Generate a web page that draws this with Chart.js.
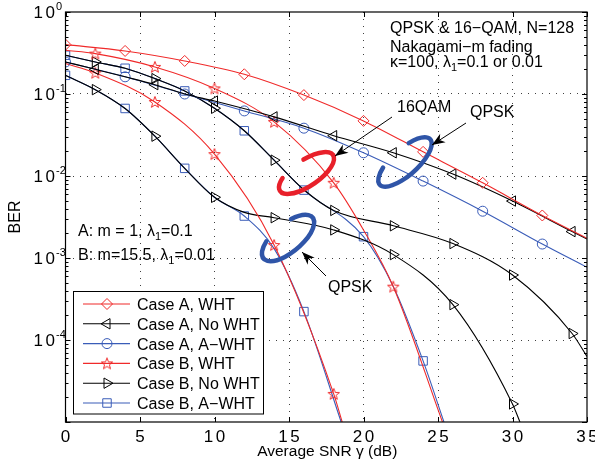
<!DOCTYPE html>
<html lang="en">
<head>
<meta charset="UTF-8">
<title>BER vs average SNR</title>
<script src="https://cdn.jsdelivr.net/npm/chart.js"></script>
<style>
	body {padding: 0; margin: 0; background: #fff;}
	#chartContainer { width: 595px; height: 470px; }
</style>
</head>
<body>

<div id="chartContainer">
    <canvas id="berChart"></canvas>
</div>

<script>
// values: SNR in dB, BER, and 1 where a marker is drawn
// Case A (QPSK)
var aWhtSnr  = [0, 4, 8, 12, 16, 20, 24, 28, 32, 35];
var aWhtBer  = [0.40, 0.335, 0.253, 0.174, 0.097, 0.047, 0.0197, 0.00826, 0.0033, 0.00174];
var aWhtMark = [1, 1, 1, 1, 1, 1, 1, 1, 1, 0];

var aNoSnr  = [0, 2, 4, 6, 8, 10, 14, 18, 22, 26, 30, 34, 35];
var aNoBer  = [0.246, 0.20, 0.162, 0.13, 0.10, 0.082, 0.0526, 0.031, 0.0192, 0.01055, 0.00495, 0.0021, 0.0017];
var aNoMark = [0, 1, 0, 1, 0, 1, 1, 1, 1, 1, 1, 1, 0];

var aAdSnr  = [0, 4, 8, 12, 16, 20, 24, 28, 32, 35];
var aAdBer  = [0.246, 0.162, 0.10, 0.0622, 0.0383, 0.0192, 0.00867, 0.00372, 0.00148, 0.00077];
var aAdMark = [1, 1, 1, 1, 1, 1, 1, 1, 1, 0];

// Case B, QPSK
var bqWhtSnr  = [0, 2, 6, 10, 14, 18, 18.57];
var bqWhtBer  = [0.235, 0.181, 0.080, 0.0185, 0.00144, 0.000022, 0.00001];
var bqWhtMark = [0, 1, 1, 1, 1, 1, 0];

var bqNoSnr  = [0, 2, 4, 6, 8, 10, 12, 14, 18, 22, 26, 30, 30.5];
var bqNoBer  = [0.169, 0.113, 0.0666, 0.0306, 0.0124, 0.0055, 0.0036, 0.0031, 0.0022, 0.0011, 0.00027, 0.0000166, 0.00001];
var bqNoMark = [0, 1, 0, 1, 0, 1, 0, 1, 1, 1, 1, 1, 0];

var bqAdSnr  = [0, 2, 4, 6, 8, 10, 12, 14, 16, 18.5];
var bqAdBer  = [0.169, 0.113, 0.0666, 0.0306, 0.0124, 0.0055, 0.00325, 0.0013, 0.000222, 0.00001];
var bqAdMark = [1, 0, 1, 0, 1, 0, 1, 0, 1, 0];

// Case B, 16QAM
var b16WhtSnr  = [0, 2, 6, 10, 14, 18, 20, 22, 25.3];
var b16WhtBer  = [0.342, 0.311, 0.214, 0.117, 0.0457, 0.00826, 0.0022, 0.000447, 0.00001];
var b16WhtMark = [0, 1, 1, 1, 1, 1, 0, 1, 0];

var b16NoSnr  = [0, 2, 4, 6, 8, 10, 12, 14, 16, 18, 22, 26, 30, 34, 35];
var b16NoBer  = [0.297, 0.246, 0.206, 0.154, 0.109, 0.067, 0.0356, 0.0156, 0.0068, 0.0038, 0.00247, 0.0015, 0.00062, 0.00012, 0.000063];
var b16NoMark = [0, 1, 0, 1, 0, 1, 0, 1, 0, 1, 1, 1, 1, 1, 0];

var b16AdSnr  = [0, 2, 4, 6, 8, 10, 12, 14, 16, 20, 22, 24, 25.4];
var b16AdBer  = [0.297, 0.246, 0.206, 0.154, 0.109, 0.067, 0.0356, 0.0156, 0.00673, 0.00182, 0.00045, 0.0000556, 0.00001];
var b16AdMark = [1, 0, 1, 0, 1, 0, 1, 0, 1, 1, 0, 1, 0];

var legendLabels = ['Case A, WHT', 'Case A, No WHT', 'Case A, A\u2212WHT',
                    'Case B, WHT', 'Case B, No WHT', 'Case B, A\u2212WHT'];
var xTicks = [0, 5, 10, 15, 20, 25, 30, 35];
var yDecades = [-5, -4, -3, -2, -1, 0];

var RED = '#f02a2a';
var BLUE = '#3a5cb8';
var BLACK = '#000000';
var FONT = '"Liberation Sans", Arial, Helvetica, sans-serif';
var GRID = 'rgba(0,0,0,0.75)';

// outline pentagram, used as a point style
function makeStar(color) {
    var c = document.createElement('canvas');
    c.width = 14; c.height = 14;
    var g = c.getContext('2d');
    g.strokeStyle = color;
    g.lineWidth = 1;
    g.beginPath();
    for (var i = 0; i < 10; i++) {
        var r = (i % 2 === 0) ? 6 : 2.5;
        var a = -Math.PI / 2 + i * Math.PI / 5;
        var px = 7 + r * Math.cos(a), py = 7.5 + r * Math.sin(a);
        if (i === 0) g.moveTo(px, py); else g.lineTo(px, py);
    }
    g.closePath();
    g.stroke();
    return c;
}
var redStar = makeStar(RED);

function makeSet(label, snr, ber, mark, color, style, rot, radius) {
    var pts = snr.map(function(s, i) { return {x: s, y: ber[i]}; });
    return {
        label: label,
        data: pts,
        borderColor: color,
        borderWidth: 1.1,
        backgroundColor: 'rgba(0,0,0,0)',
        pointStyle: style,
        pointRotation: rot,
        pointRadius: mark.map(function(m) { return m ? radius : 0; }),
        pointBorderColor: color,
        pointBackgroundColor: 'rgba(0,0,0,0)',
        pointBorderWidth: 1,
        cubicInterpolationMode: 'monotone',
        fill: false
    };
}

var datasets = [
    makeSet(legendLabels[0], aWhtSnr, aWhtBer, aWhtMark, RED, 'rectRot', 0, 5.5),
    makeSet(legendLabels[1], aNoSnr, aNoBer, aNoMark, BLACK, 'triangle', -90, 6),
    makeSet(legendLabels[2], aAdSnr, aAdBer, aAdMark, BLUE, 'circle', 0, 5),
    makeSet(legendLabels[3], bqWhtSnr, bqWhtBer, bqWhtMark, RED, redStar, 0, 6),
    makeSet(legendLabels[4], bqNoSnr, bqNoBer, bqNoMark, BLACK, 'triangle', 90, 6),
    makeSet(legendLabels[5], bqAdSnr, bqAdBer, bqAdMark, BLUE, 'rect', 0, 6),
    makeSet(legendLabels[3], b16WhtSnr, b16WhtBer, b16WhtMark, RED, redStar, 0, 6),
    makeSet(legendLabels[4], b16NoSnr, b16NoBer, b16NoMark, BLACK, 'triangle', 90, 6),
    makeSet(legendLabels[5], b16AdSnr, b16AdBer, b16AdMark, BLUE, 'rect', 0, 6)
];

function isDecade(v) {
    var l = Math.log10(v);
    return Math.abs(l - Math.round(l)) < 1e-6;
}

// text with a sub or superscript piece: parts = [[text, size, dy], ...]
function drawRich(g, parts, x, y) {
    var cx = x;
    g.textAlign = 'left';
    parts.forEach(function(p) {
        g.font = p[1] + 'px ' + FONT;
        g.fillText(p[0], cx, y + p[2]);
        cx += g.measureText(p[0]).width;
    });
}

// wide tick label text, like the figure's
function tickText(g, s, x, y, align) {
    var sp = 2.5;
    g.font = '17px ' + FONT;
    g.textAlign = 'left';
    var w = 0;
    var ws = s.split('').map(function(ch) { var m = g.measureText(ch).width; w += m; return m; });
    w += sp * (s.length - 1);
    var cx = align === 'right' ? x - w : x - w / 2;
    s.split('').forEach(function(ch, i) {
        g.fillText(ch, cx, y);
        cx += ws[i] + sp;
    });
}

function arrow(g, x1, y1, x2, y2) {
    g.strokeStyle = '#000';
    g.fillStyle = '#000';
    g.lineWidth = 1;
    g.beginPath(); g.moveTo(x1, y1); g.lineTo(x2, y2); g.stroke();
    var a = Math.atan2(y2 - y1, x2 - x1);
    var L = 13, W = 5;
    g.save();
    g.translate(x2, y2);
    g.rotate(a);
    g.beginPath();
    g.moveTo(0, 0);
    g.lineTo(-L, -W);
    g.lineTo(-L * 0.7, 0);
    g.lineTo(-L, W);
    g.closePath();
    g.fill();
    g.restore();
}

function ring(g, cx, cy, a, b, rotDeg, start, end, color) {
    g.strokeStyle = color;
    g.lineWidth = 4.5;
    g.lineCap = 'round';
    g.beginPath();
    g.ellipse(cx, cy, a, b, rotDeg * Math.PI / 180, start * Math.PI, end * Math.PI);
    g.stroke();
    g.lineCap = 'butt';
}

var decorPlugin = {
    id: 'decor',
    afterDraw: function(chart) {
        var g = chart.ctx;
        var area = chart.chartArea;
        var xs = chart.scales.x, ys = chart.scales.y;
        g.save();

        // inward tick marks
        g.strokeStyle = '#000';
        g.lineWidth = 1;
        g.beginPath();
        xTicks.forEach(function(v) {
            var px = Math.round(xs.getPixelForValue(v)) + 0.5;
            g.moveTo(px, area.bottom); g.lineTo(px, area.bottom - 5);
            g.moveTo(px, area.top); g.lineTo(px, area.top + 5);
        });
        ys.ticks.forEach(function(t) {
            var py = Math.round(ys.getPixelForValue(t.value)) + 0.5;
            var len = isDecade(t.value) ? 5 : 3;
            g.moveTo(area.left, py); g.lineTo(area.left + len, py);
            g.moveTo(area.right, py); g.lineTo(area.right - len, py);
        });
        g.stroke();
        g.lineWidth = 1.2;
        g.strokeRect(area.left, area.top, area.right - area.left, area.bottom - area.top);

        // tick labels
        g.fillStyle = '#000';
        g.textBaseline = 'alphabetic';
        xTicks.forEach(function(v) {
            tickText(g, String(v), xs.getPixelForValue(v), area.bottom + 20, 'center');
        });
        yDecades.forEach(function(d) {
            if (d === -5) return;
            var py = ys.getPixelForValue(Math.pow(10, d));
            tickText(g, '10', 55, py + 6, 'right');
            g.font = '11px ' + FONT;
            g.textAlign = 'left';
            g.fillText(d === 0 ? '0' : '-' + (-d), 56, py - 2);
        });

        // axis titles
        g.font = '15.5px ' + FONT;
        g.textAlign = 'center';
        g.fillText('Average SNR \u03b3 (dB)', (area.left + area.right) / 2 + 1, 456);
        g.save();
        g.translate(20, (area.top + area.bottom) / 2);
        g.rotate(-Math.PI / 2);
        g.font = '16px ' + FONT;
        g.fillText('BER', 0, 0);
        g.restore();

        // notes
        g.font = '16px ' + FONT;
        g.textAlign = 'left';
        g.fillText('QPSK & 16\u2212QAM, N=128', 390, 32.5);
        g.fillText('Nakagami\u2212m fading', 390, 51.5);
        drawRich(g, [['\u03ba=100, \u03bb', 16, 0], ['1', 11, 4], ['=0.1 or 0.01', 16, 0]], 390, 66.5);
        drawRich(g, [['A: m = 1, \u03bb', 16, 0], ['1', 11, 4], ['=0.1', 16, 0]], 78, 236);
        drawRich(g, [['B: m=15.5, \u03bb', 16, 0], ['1', 11, 4], ['=0.01', 16, 0]], 78, 259.5);

        // rings and arrows
        ring(g, 306.5, 173, 32, 13, -34, -0.45, 1.25, '#e8202a');
        ring(g, 405, 162, 34, 13, -42, -0.35, 1.3, '#2f55a8');
        ring(g, 288, 238, 32, 14, -40, -0.35, 1.3, '#2f55a8');
        arrow(g, 392, 117, 335, 156);
        arrow(g, 466, 123, 432, 145);
        arrow(g, 326, 276, 302, 252);
        g.fillStyle = '#000';
        g.font = '16px ' + FONT;
        g.textAlign = 'left';
        g.fillText('16QAM', 397, 112);
        g.fillText('QPSK', 470, 117);
        g.fillText('QPSK', 328, 292);

        // legend box
        var lx = 73.5, ly = 291.5, lw = 190, lh = 122.5;
        g.fillStyle = '#fff';
        g.fillRect(lx, ly, lw, lh);
        g.strokeStyle = '#000';
        g.lineWidth = 1;
        g.strokeRect(lx, ly, lw, lh);
        legendLabels.forEach(function(lab, i) {
            var ds = chart.data.datasets[i];
            var ry = 304 + i * 19.8;
            g.strokeStyle = ds.borderColor;
            g.lineWidth = 1.1;
            g.beginPath(); g.moveTo(83, ry); g.lineTo(130, ry); g.stroke();
            g.fillStyle = 'rgba(0,0,0,0)';
            g.lineWidth = 1;
            Chart.helpers.drawPoint(g, {
                pointStyle: ds.pointStyle,
                rotation: ds.pointRotation,
                radius: ds.pointRadius.find(function(r) { return r > 0; }),
                borderWidth: 1
            }, 107, ry);
            g.fillStyle = '#000';
            g.font = '16px ' + FONT;
            g.textAlign = 'left';
            g.fillText(lab, 137, ry + 6);
        });

        g.restore();
    }
};

var chartCtx = document.getElementById('berChart').getContext('2d');
var berChart = new Chart(chartCtx, {
    type: 'line',
    data: { datasets: datasets },
    options: {
        animation: false,
        responsive: true,
        maintainAspectRatio: false,
        layout: { padding: { left: 65.5, top: 12, right: 8, bottom: 48 } },
        plugins: { legend: { display: false }, tooltip: { enabled: false } },
        scales: {
            x: {
                type: 'linear', min: 0, max: 35,
                ticks: { display: false, stepSize: 5 },
                grid: {
                    drawTicks: false,
                    color: function(c) { return (c.tick && c.tick.value > 0 && c.tick.value < 35) ? GRID : 'rgba(0,0,0,0)'; }
                },
                border: { display: false, dash: [1, 6] }
            },
            y: {
                type: 'logarithmic', min: 1e-5, max: 1,
                ticks: { display: false },
                afterBuildTicks: function(scale) {
                    var t = [];
                    yDecades.forEach(function(d) {
                        for (var m = 1; m <= 9; m++) {
                            if (d === 0 && m > 1) break;
                            t.push({ value: m * Math.pow(10, d) });
                        }
                    });
                    scale.ticks = t;
                },
                grid: {
                    drawTicks: false,
                    color: function(c) {
                        var v = c.tick ? c.tick.value : 0;
                        return (isDecade(v) && v > 1e-5 && v < 1) ? GRID : 'rgba(0,0,0,0)';
                    }
                },
                border: { display: false, dash: [1, 6] }
            }
        }
    },
    plugins: [decorPlugin]
});
</script>

</body>
</html>
